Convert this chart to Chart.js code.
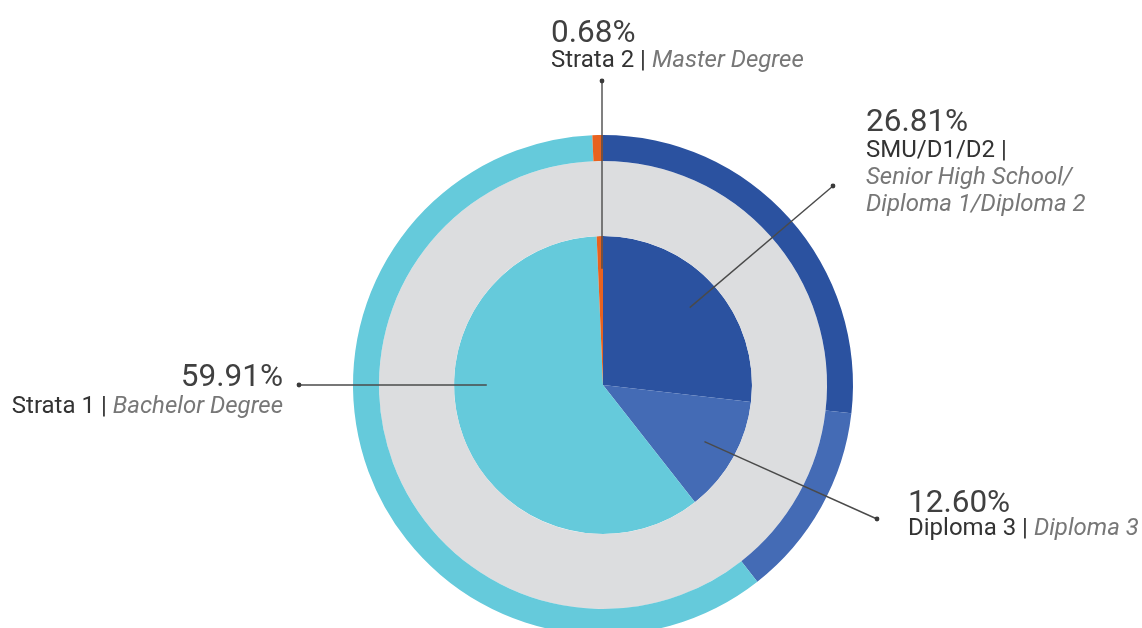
<!DOCTYPE html>
<html>
<head>
<meta charset="utf-8">
<script src="https://cdn.jsdelivr.net/npm/chart.js@4.4.0/dist/chart.umd.min.js"></script>
<style>
  html, body { margin: 0; padding: 0; background: #fff; overflow: hidden; }
  body { width: 1142px; height: 628px; }
  #pie { display: block; }
</style>
</head>
<body>
<canvas id="pie" width="1142" height="770"></canvas>
<script>
  // data, clockwise from 12 o'clock
  const categories = ['SMU/D1/D2', 'Diploma 3', 'Strata 1', 'Strata 2'];
  const categoriesEn = ['Senior High School/Diploma 1/Diploma 2', 'Diploma 3', 'Bachelor Degree', 'Master Degree'];
  const shares = [26.81, 12.60, 59.91, 0.68];
  const colors = ['#2b52a0', '#446bb5', '#65cadb', '#e8621f'];
  const ringGrey = '#dcdddf';

  // where each label block sits (dot = end of leader line)
  const labelPos = [
    { x: 866, y: 131, align: 'left', rowY: 157, dot: [833, 186], leader: 'mid',
      rows: [[['SMU/D1/D2 |', false]], [['Senior High School/', true]], [['Diploma 1/Diploma 2', true]]] },
    { x: 908, y: 512, align: 'left', rowY: 535, dot: [877, 519], leader: 'mid',
      rows: [[['Diploma 3 | ', false], ['Diploma 3', true]]] },
    { x: 283, y: 386, align: 'right', rowY: 413, dot: [299, 385], leader: 'horizontal',
      rows: [[['Strata 1 | ', false], ['Bachelor Degree', true]]] },
    { x: 551, y: 42, align: 'left', rowY: 67, dot: [602, 81], leader: 'vertical',
      rows: [[['Strata 2 | ', false], ['Master Degree', true]]] }
  ];

  const calloutPlugin = {
    id: 'callouts',
    afterDraw(chart) {
      const ctx = chart.ctx;
      const meta = chart.getDatasetMeta(2);
      ctx.save();
      labelPos.forEach((lab, i) => {
        const arc = meta.data[i];
        const r = arc.outerRadius * 0.78;
        let ex, ey;
        if (lab.leader === 'horizontal') {
          ex = arc.x - r; ey = lab.dot[1];
        } else if (lab.leader === 'vertical') {
          ex = lab.dot[0]; ey = arc.y - r;
        } else {
          const mid = (arc.startAngle + arc.endAngle) / 2;
          ex = arc.x + Math.cos(mid) * r;
          ey = arc.y + Math.sin(mid) * r;
        }
        ctx.strokeStyle = '#4a4a4a';
        ctx.lineWidth = 1.4;
        ctx.beginPath();
        ctx.moveTo(lab.dot[0], lab.dot[1]);
        ctx.lineTo(ex, ey);
        ctx.stroke();
        ctx.fillStyle = '#3a3a3a';
        ctx.beginPath();
        ctx.arc(lab.dot[0], lab.dot[1], 2.4, 0, Math.PI * 2);
        ctx.fill();

        // percentage
        ctx.textBaseline = 'alphabetic';
        ctx.font = '31.5px Roboto';
        ctx.fillStyle = '#404040';
        ctx.textAlign = lab.align;
        ctx.fillText(shares[i].toFixed(2) + '%', lab.x, lab.y);

        // text rows, mixed regular / italic
        ctx.textAlign = 'left';
        lab.rows.forEach((row, k) => {
          const y = lab.rowY + k * 27;
          let w = 0;
          row.forEach(seg => {
            ctx.font = (seg[1] ? 'italic ' : '') + '24px Roboto';
            w += ctx.measureText(seg[0]).width;
          });
          let x = lab.align === 'right' ? lab.x - w : lab.x;
          row.forEach(seg => {
            ctx.font = (seg[1] ? 'italic ' : '') + '24px Roboto';
            ctx.fillStyle = seg[1] ? '#777777' : '#333333';
            ctx.fillText(seg[0], x, y);
            x += ctx.measureText(seg[0]).width;
          });
        });
      });
      ctx.restore();
    }
  };

  new Chart(document.getElementById('pie'), {
    type: 'doughnut',
    data: {
      labels: categories,
      datasets: [
        { data: shares, backgroundColor: colors, weight: 26, borderWidth: 0 },
        { data: [100], backgroundColor: [ringGrey], weight: 75, borderWidth: 0 },
        { data: shares, backgroundColor: colors, weight: 149, borderWidth: 0 }
      ]
    },
    options: {
      responsive: false,
      animation: false,
      events: [],
      cutout: 0,
      layout: { padding: { left: 353, right: 289, top: 135, bottom: 135 } },
      plugins: { legend: { display: false }, tooltip: { enabled: false } }
    },
    plugins: [calloutPlugin]
  });
</script>
</body>
</html>
